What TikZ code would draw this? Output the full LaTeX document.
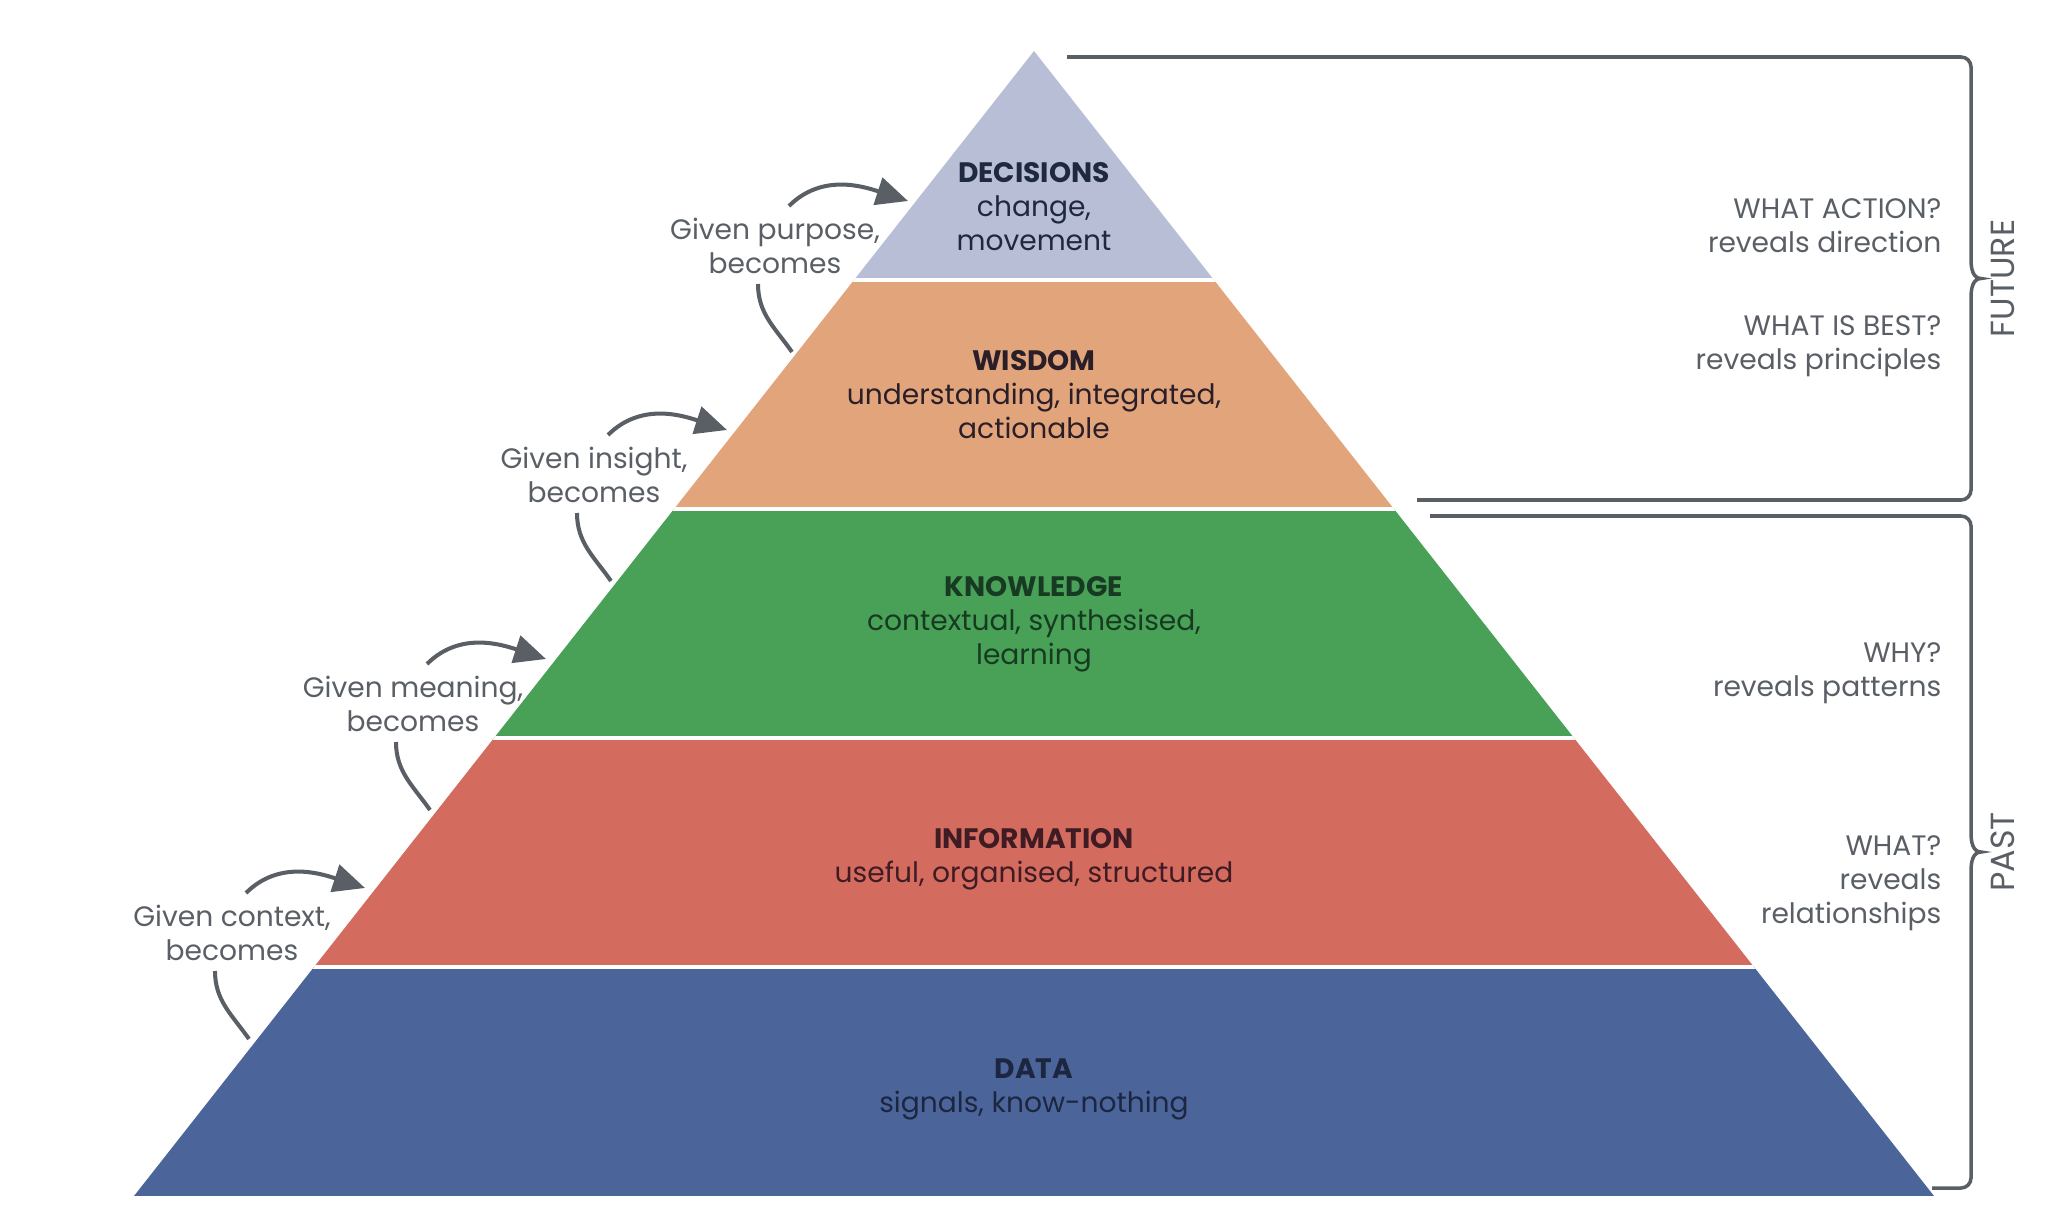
\documentclass[tikz,border=0pt]{standalone}
\usepackage{fontspec}
\setmainfont{Poppins}
\usetikzlibrary{arrows.meta}
\definecolor{decfill}{HTML}{B8BED5}
\definecolor{wisfill}{HTML}{E2A57B}
\definecolor{knofill}{HTML}{49A157}
\definecolor{inffill}{HTML}{D46B5F}
\definecolor{datfill}{HTML}{4B659A}
\definecolor{dectxt}{HTML}{1E2840}
\definecolor{wistxt}{HTML}{2A1E28}
\definecolor{knotxt}{HTML}{173A22}
\definecolor{inftxt}{HTML}{3F1C23}
\definecolor{dattxt}{HTML}{1C2640}
\definecolor{linegray}{HTML}{5A5F66}

\begin{document}
\begin{tikzpicture}[
    layer/.style={align=center, inner sep=0pt, font=\fontsize{8}{9.7}\selectfont},
    given/.style={align=center, inner sep=0pt, text=linegray, font=\fontsize{8}{9.7}\selectfont},
    side/.style={anchor=east, align=right, inner sep=0pt, text=linegray, font=\fontsize{8}{9.7}\selectfont},
    period/.style={rotate=90, inner sep=0pt, text=linegray, font=\fontsize{9.5}{11}\selectfont},
    becomes/.style={linegray, line width=1.15pt},
    brace/.style={linegray, line width=1pt},
]
\useasboundingbox (0,0) rectangle (20.7,12.2);

% the pyramid, cut into five bands
\begin{scope}
    \clip (1.34,0.24) -- (19.34,0.24) -- (10.34,11.69) -- cycle;
    \foreach \y/\c in {0.24/datfill, 2.53/inffill, 4.82/knofill, 7.11/wisfill, 9.40/decfill}
        \fill[\c] (0,\y) rectangle (20.7,\y+2.29);
    \foreach \y in {2.53, 4.82, 7.11, 9.40}
        \draw[white, line width=1.2pt] (0,\y) -- (20.7,\y);
\end{scope}

\node[layer, text=dectxt] (decisions) at (10.34,10.13) {\textbf{DECISIONS}\\change,\\movement};
\node[layer, text=wistxt] (wisdom) at (10.34,8.25) {\textbf{WISDOM}\\understanding, integrated,\\actionable};
\node[layer, text=knotxt] (knowledge) at (10.34,5.96) {\textbf{KNOWLEDGE}\\contextual, synthesised,\\learning};
\node[layer, text=inftxt] (information) at (10.34,3.61) {\textbf{INFORMATION}\\useful, organised, structured};
\node[layer, text=dattxt] (data) at (10.34,1.31) {\textbf{DATA}\\signals, know-nothing};

% what each step is given
\foreach \n [count=\i from 0] in {purpose, insight, meaning, context} {
    \node[given] (\n) at ({7.75-1.81*\i},{9.745-2.29*\i}) {Given \n,\\becomes};
    \coordinate (\n-tip) at ([shift={(1.33,0.445)}]\n.center);
    \coordinate (\n-edge) at ([shift={(0.17,-1.065)}]\n.center);
    \draw[becomes, -{Triangle[length=9pt, width=8pt]}] ([shift={(0.14,0.395)}]\n.center) to[out=45, in=162] (\n-tip);
    \draw[becomes] ([shift={(-0.17,-0.385)}]\n.center) to[out=-90, in=125] (\n-edge);
}

% questions on the right
\node[side] (action) at (19.42,9.94) {WHAT ACTION?\\reveals direction};
\node[side] (best) at (19.42,8.74) {WHAT IS BEST?\\reveals principles};
\node[side] (why) at (19.42,5.47) {WHY?\\reveals patterns};
\node[side] (what) at (19.42,3.37) {WHAT?\\reveals\\relationships};

% braces
\draw[brace] (10.67,11.63) -- (19.61,11.63) arc[start angle=90, end angle=0, radius=0.1]
    -- (19.71,9.60) to[out=-90, in=180] (19.81,9.415) to[out=180, in=90] (19.71,9.23)
    -- (19.71,7.30) arc[start angle=0, end angle=-90, radius=0.1] -- (14.17,7.20);
\draw[brace] (14.30,7.04) -- (19.61,7.04) arc[start angle=90, end angle=0, radius=0.1]
    -- (19.71,3.865) to[out=-90, in=180] (19.81,3.68) to[out=180, in=90] (19.71,3.495)
    -- (19.71,0.42) arc[start angle=0, end angle=-90, radius=0.1] -- (19.32,0.32);

\node[period] (future) at (20.03,9.415) {FUTURE};
\node[period] (past) at (20.03,3.68) {PAST};
\end{tikzpicture}
\end{document}
